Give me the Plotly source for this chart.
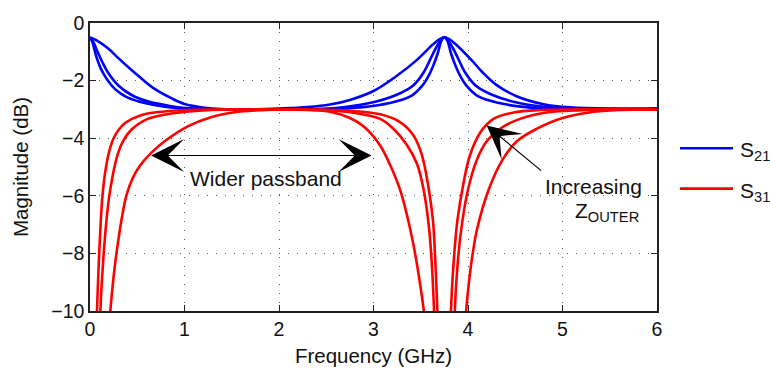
import plotly.graph_objects as go

# ---------------- data ----------------
s21_inner_f = [0, 0.025, 0.067, 0.11, 0.155, 0.20, 0.26, 0.33, 0.40, 0.58, 0.79, 1.0, 1.4, 2.0, 2.5, 2.89,
               3.17, 3.39, 3.51, 3.58, 3.63, 3.68, 3.72, 3.75, 3.78, 3.82, 3.87, 3.92, 3.99, 4.11, 4.33,
               4.61, 5.0, 5.5, 6.0]
s21_inner_db = [-0.5, -0.66, -1.17, -1.55, -1.83, -2.05, -2.28, -2.46, -2.59, -2.78, -2.91, -2.97, -3.0,
                -3.0, -2.99, -2.92, -2.78, -2.55, -2.2, -1.85, -1.5, -1.05, -0.6, -0.5, -0.6, -1.05,
                -1.5, -1.85, -2.2, -2.55, -2.78, -2.92, -2.97, -2.99, -3.0]

s21_mid_f = [0, 0.035, 0.088, 0.14, 0.19, 0.30, 0.44, 0.61, 0.86, 1.04, 1.4, 2.0, 2.6, 2.96, 3.24, 3.42,
             3.53, 3.63, 3.71, 3.75, 3.79, 3.87, 3.97, 4.08, 4.26, 4.54, 4.83, 5.3, 6.0]
s21_mid_db = [-0.5, -0.66, -1.06, -1.42, -1.72, -2.17, -2.5, -2.72, -2.89, -2.96, -3.0, -3.0, -2.95,
              -2.78, -2.5, -2.17, -1.72, -1.06, -0.6, -0.5, -0.6, -1.06, -1.72, -2.17, -2.5, -2.78,
              -2.92, -2.98, -3.0]

s21_outer_f = [0, 0.07, 0.19, 0.30, 0.40, 0.51, 0.68, 0.86, 1.0, 1.21, 1.39, 1.7, 2.0, 2.3, 2.54, 2.75,
               3.0, 3.24, 3.46, 3.63, 3.70, 3.75, 3.80, 3.87, 4.04, 4.15, 4.30, 4.52, 4.80, 5.08, 5.5, 6.0]
s21_outer_db = [-0.5, -0.6, -0.88, -1.22, -1.52, -1.83, -2.28, -2.61, -2.81, -2.94, -2.99, -3.0, -2.97,
                -2.92, -2.83, -2.67, -2.36, -1.85, -1.28, -0.74, -0.56, -0.5, -0.56, -0.74, -1.3, -1.7,
                -2.15, -2.55, -2.82, -2.93, -2.97, -2.96]

s31_inner_f = [0.066, 0.074, 0.085, 0.097, 0.112, 0.132, 0.16, 0.20, 0.25, 0.31, 0.38, 0.54, 0.79, 1.0,
               1.4, 2.0, 2.6, 3.07, 3.28, 3.42, 3.51, 3.58, 3.63, 3.65, 3.675, 3.682, None,
               3.815, 3.82, 3.84, 3.865, 3.89, 3.95, 4.02, 4.13, 4.27, 4.48, 4.76, 5.2, 6.0]
s31_inner_db = [-11.0, -10, -9, -8, -7, -6, -5.2, -4.5, -4.0, -3.68, -3.45, -3.2, -3.07, -3.02, -3.0,
                -3.0, -3.02, -3.17, -3.44, -3.89, -4.56, -5.67, -6.89, -8.0, -9.93, -11.0, None,
                -11.0, -10, -8.7, -7.6, -6.8, -5.6, -4.6, -3.8, -3.33, -3.11, -3.02, -3.0, -3.0]

s31_mid_f = [0.102, 0.11, 0.125, 0.145, 0.17, 0.20, 0.24, 0.29, 0.35, 0.44, 0.61, 0.86, 1.12, 1.5, 2.0,
             2.5, 2.8, 3.07, 3.21, 3.35, 3.46, 3.53, 3.58, 3.61, 3.64, 3.648, None,
             3.852, 3.86, 3.90, 3.94, 4.0, 4.09, 4.2, 4.34, 4.55, 4.83, 5.2, 5.6, 6.0]
s31_mid_db = [-11.0, -10, -9, -8, -7, -6.1, -5.3, -4.6, -4.1, -3.7, -3.33, -3.14, -3.05, -3.0, -3.0,
              -3.03, -3.12, -3.33, -3.67, -4.22, -4.89, -5.78, -6.89, -8.0, -9.93, -11.0, None,
              -11.0, -10, -8, -6.89, -5.78, -4.78, -4.1, -3.67, -3.33, -3.11, -3.03, -3.0, -3.0]

s31_outer_f = [0.2, 0.215, 0.25, 0.28, 0.33, 0.384, 0.45, 0.53, 0.65, 0.80, 1.04, 1.28, 1.53, 1.8, 2.0,
               2.3, 2.54, 2.75, 2.9, 3.07, 3.17, 3.28, 3.37, 3.44, 3.49, 3.53, 3.545, None,
               3.965, 3.98, 4.01, 4.05, 4.10, 4.22, 4.36, 4.52, 4.73, 5.0, 5.3, 5.6, 6.0]
s31_outer_db = [-10.6, -10, -8.8, -8.0, -6.9, -6.0, -5.4, -4.95, -4.5, -4.08, -3.58, -3.27, -3.1, -3.03,
                -3.0, -3.02, -3.08, -3.3, -3.6, -4.25, -4.89, -5.78, -6.89, -8.0, -9.0, -9.93, -10.5, None,
                -10.6, -10, -9.0, -8.0, -7.1, -5.78, -4.78, -4.1, -3.67, -3.3, -3.1, -3.02, -3.0]

x_ticks = [0, 1, 2, 3, 4, 5, 6]
y_ticks = [-10, -8, -6, -4, -2, 0]
legend_labels = ["S<sub>21</sub>", "S<sub>31</sub>"]

BLUE = "#0000FF"
RED = "#FF0000"
FONT = "Liberation Sans, Arial, Helvetica, sans-serif"

fig = go.Figure()
for f, db in [(s21_inner_f, s21_inner_db), (s21_mid_f, s21_mid_db), (s21_outer_f, s21_outer_db)]:
    fig.add_trace(go.Scatter(x=f, y=db, mode="lines", line=dict(color=BLUE, width=2.6, shape="spline", smoothing=1.0),
                             showlegend=False, connectgaps=False, hoverinfo="skip"))
for f, db in [(s31_inner_f, s31_inner_db), (s31_mid_f, s31_mid_db), (s31_outer_f, s31_outer_db)]:
    fig.add_trace(go.Scatter(x=f, y=db, mode="lines", line=dict(color=RED, width=2.6, shape="spline", smoothing=1.0),
                             showlegend=False, connectgaps=False, hoverinfo="skip"))

axis_common = dict(
    showline=True, linecolor="#222222", linewidth=1.5, mirror="ticks",
    ticks="inside", ticklen=6, tickcolor="#222222", tickwidth=1.2,
    showgrid=True, gridcolor="#555555", gridwidth=1, griddash="1px,8px",
    zeroline=False, tickfont=dict(family=FONT, size=19.5, color="#111111"),
)

fig.update_layout(
    width=770, height=376,
    margin=dict(l=90, r=113, t=15, b=62),
    paper_bgcolor="white", plot_bgcolor="white",
    font=dict(family=FONT, color="#111111"),
    xaxis=dict(range=[0, 6], tickvals=x_ticks, **axis_common,
               title=dict(text="Frequency (GHz)", font=dict(family=FONT, size=20.5), standoff=9)),
    yaxis=dict(range=[-10, 0], tickvals=y_ticks, **axis_common,
               title=dict(text="Magnitude (dB)", font=dict(family=FONT, size=20.5), standoff=17)),
    showlegend=False,
)

# double-headed arrow "Wider passband"
fig.add_annotation(x=0.646, y=-4.6, ax=2.995, ay=-4.6, xref="x", yref="y", axref="x", ayref="y",
                   text="", showarrow=True, arrowhead=3, startarrowhead=3, arrowside="end+start",
                   arrowsize=4.6, startarrowsize=4.6, arrowwidth=1.2, arrowcolor="black",
                   standoff=0, startstandoff=0)
fig.add_annotation(x=1.86, y=-5.4, xref="x", yref="y", text="Wider passband", showarrow=False,
                   font=dict(family=FONT, size=21, color="#111111"))

# arrow "Increasing Z_OUTER"
fig.add_annotation(x=4.198, y=-3.56, ax=4.79, ay=-5.17, xref="x", yref="y", axref="x", ayref="y",
                   text="", showarrow=True, arrowhead=3, arrowsize=4.6, arrowwidth=1.2, arrowcolor="black",
                   standoff=0)
fig.add_annotation(x=5.33, y=-5.67, xref="x", yref="y", text="Increasing", showarrow=False,
                   font=dict(family=FONT, size=21, color="#111111"))
fig.add_annotation(x=5.47, y=-6.55, xref="x", yref="y", text="Z<sub>OUTER</sub>", showarrow=False,
                   font=dict(family=FONT, size=21, color="#111111"))

# legend drawn at the right
for i, (lab, col) in enumerate(zip(legend_labels, [BLUE, RED])):
    yp = [0.565, 0.425][i]
    fig.add_shape(type="line", xref="paper", yref="paper", x0=1.0406, x1=1.134, y0=yp, y1=yp,
                  line=dict(color=col, width=2.6))
    fig.add_annotation(xref="paper", yref="paper", x=1.142, y=yp, xanchor="left", yanchor="middle",
                       text=lab, showarrow=False, font=dict(family=FONT, size=21, color="#111111"), yshift=-3)

fig.write_html("out.html")
